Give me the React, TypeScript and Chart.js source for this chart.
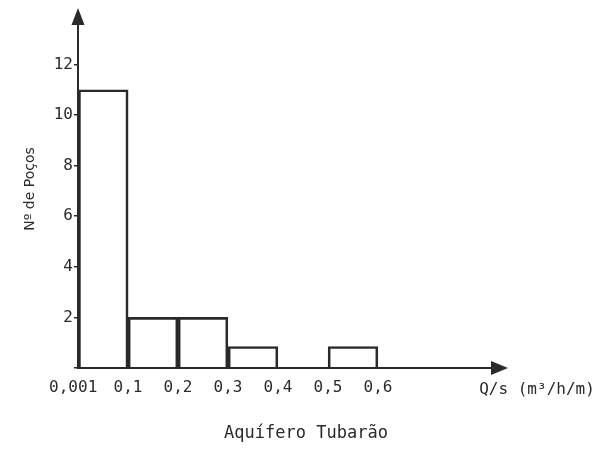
import React, { useEffect, useRef } from "react";
import { Chart, registerables } from "chart.js";

Chart.register(...registerables);

// Data
const binEdges = [0.001, 0.1, 0.2, 0.3, 0.4, 0.5, 0.6];
const wellCounts = [11, 2, 2, 0.85, 0, 0.85];
const xTickLabels = ["0,001 ", "0,1", "0,2", "0,3", "0,4", "0,5", "0,6"];
const yTickValues = [2, 4, 6, 8, 10, 12];
const xAxisTitle = "Q/s (m³/h/m)";
const yAxisTitle = "Nº de Poços";
const chartCaption = "Aquífero Tubarão";

const INK = "#2a2a2a";
const MONO = "'DejaVu Sans Mono', 'Liberation Mono', monospace";

export default function App() {
  const ref = useRef<HTMLCanvasElement | null>(null);

  useEffect(() => {
    if (!ref.current) return;
    const points = wellCounts.map((c, i) => ({
      x: (binEdges[i] + binEdges[i + 1]) / 2,
      y: c,
    }));

    const decor = {
      id: "decor",
      afterDraw(chart: any) {
        const ctx = chart.ctx;
        const a = chart.chartArea;
        ctx.save();
        ctx.fillStyle = INK;
        // y arrow
        ctx.beginPath();
        ctx.moveTo(a.left, a.top - 16);
        ctx.lineTo(a.left - 6.5, a.top + 1);
        ctx.lineTo(a.left + 6.5, a.top + 1);
        ctx.closePath();
        ctx.fill();
        // x arrow
        ctx.beginPath();
        ctx.moveTo(a.right + 16, a.bottom);
        ctx.lineTo(a.right - 1, a.bottom - 7);
        ctx.lineTo(a.right - 1, a.bottom + 7);
        ctx.closePath();
        ctx.fill();
        // texts
        ctx.font = "16px " + MONO;
        ctx.textAlign = "center";
        ctx.textBaseline = "middle";
        ctx.fillText(xAxisTitle, a.right + 45, a.bottom + 22);
        ctx.font = "17px " + MONO;
        ctx.fillText(chartCaption, 298, 426);
        ctx.translate(22, 181);
        ctx.rotate(-Math.PI / 2);
        ctx.font = "14px 'DejaVu Sans', sans-serif";
        ctx.fillText(yAxisTitle, 0, 0);
        ctx.restore();
      },
    };

    const chart = new Chart(ref.current, {
      type: "bar",
      data: {
        datasets: [
          {
            data: points,
            backgroundColor: "rgba(255,255,255,0)",
            borderColor: INK,
            borderWidth: 2,
            barPercentage: 1,
            categoryPercentage: 1,
          },
        ],
      },
      options: {
        animation: false,
        responsive: false,
        layout: { padding: { left: 0, top: 16, right: 104, bottom: 0 } },
        plugins: {
          legend: { display: false },
          tooltip: { enabled: false },
          title: { display: false },
        },
        scales: {
          x: {
            type: "linear",
            offset: false,
            min: 0,
            max: 0.828,
            afterFit: (s: any) => {
              s.height = 74;
            },
            grid: { display: false, drawTicks: false, offset: false },
            border: { display: true, color: INK, width: 2 },
            ticks: {
              stepSize: 0.1,
              includeBounds: false,
              autoSkip: false,
              maxRotation: 0,
              padding: 10,
              color: INK,
              font: { family: MONO, size: 16 },
              callback: (v: any) => {
                const i = Math.round(Number(v) * 10);
                return i >= 0 && i < xTickLabels.length ? xTickLabels[i] : "";
              },
            },
          },
          y: {
            type: "linear",
            min: 0,
            max: 13.6,
            afterFit: (s: any) => {
              s.width = 70;
            },
            grid: {
              display: true,
              drawOnChartArea: false,
              drawTicks: true,
              tickLength: 4,
              color: INK,
              lineWidth: 1.5,
            },
            border: { display: true, color: INK, width: 2 },
            ticks: {
              stepSize: 2,
              includeBounds: false,
              padding: 1,
              color: INK,
              font: { family: MONO, size: 16 },
              callback: (v: any) =>
                yTickValues.includes(Number(v)) ? String(v) : "",
            },
          },
        },
      },
      plugins: [decor],
    });
    return () => chart.destroy();
  }, []);

  return (
    <div style={{ width: 588, height: 434, background: "#fff" }}>
      <canvas ref={ref} width={588} height={434} />
    </div>
  );
}
